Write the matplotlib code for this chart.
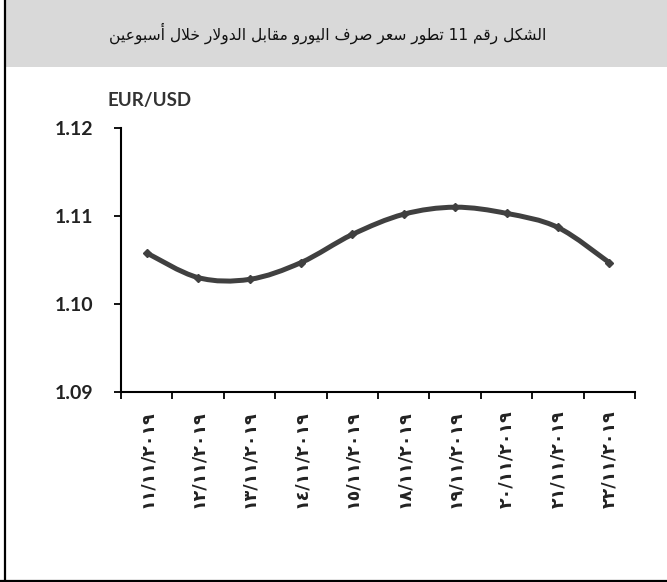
import numpy as np
import matplotlib.pyplot as plt
from matplotlib.path import Path
from matplotlib.patches import PathPatch, Rectangle
from matplotlib.lines import Line2D

# Datos
dates = ["١١/١١/٢٠١٩", "١٢/١١/٢٠١٩", "١٣/١١/٢٠١٩", "١٤/١١/٢٠١٩", "١٥/١١/٢٠١٩",
         "١٨/١١/٢٠١٩", "١٩/١١/٢٠١٩", "٢٠/١١/٢٠١٩", "٢١/١١/٢٠١٩", "٢٢/١١/٢٠١٩"]
eurusd = [1.1058, 1.1030, 1.1028, 1.1047, 1.1079, 1.1102, 1.1110, 1.1103, 1.1087, 1.1047]
yticks = [1.09, 1.10, 1.11, 1.12]
title = "الشكل رقم 11 تطور سعر صرف اليورو مقابل الدولار خلال أسبوعين"

# formas de presentacion arabes: (isolada, numero de formas)
FORMS = {"ا": (0xFE8D, 2), "أ": (0xFE83, 2), "ب": (0xFE8F, 4), "ت": (0xFE95, 4),
         "خ": (0xFEA5, 4), "د": (0xFEA9, 2), "ر": (0xFEAD, 2), "س": (0xFEB1, 4),
         "ش": (0xFEB5, 4), "ص": (0xFEB9, 4), "ط": (0xFEC1, 4), "ع": (0xFEC9, 4),
         "ف": (0xFED1, 4), "ق": (0xFED5, 4), "ك": (0xFED9, 4), "ل": (0xFEDD, 4),
         "م": (0xFEE1, 4), "ن": (0xFEE5, 4), "و": (0xFEED, 2), "ي": (0xFEF1, 4)}
LAMALEF = {"ا": 0xFEFB, "أ": 0xFEF7}


def shape_word(w):
    if not any(c in FORMS for c in w):
        return w
    toks = []
    i = 0
    while i < len(w):
        if w[i] == "ل" and i + 1 < len(w) and w[i + 1] in LAMALEF:
            toks.append((LAMALEF[w[i + 1]], 2))
            i += 2
        else:
            toks.append(FORMS[w[i]])
            i += 1
    out = []
    for k, (base, n) in enumerate(toks):
        prev = k > 0 and toks[k - 1][1] == 4
        nxt = n == 4 and k < len(toks) - 1
        if n == 2:
            idx = 1 if prev else 0
        else:
            idx = {(True, True): 3, (True, False): 1, (False, True): 2, (False, False): 0}[(prev, nxt)]
        out.append(chr(base + idx))
    return "".join(reversed(out))


def shape_rtl(s):
    return " ".join(shape_word(w) for w in reversed(s.split(" ")))


fig = plt.figure(figsize=(6.67, 5.82), dpi=100)

# banda del titulo y marco
fig.patches.append(Rectangle((6 / 667, 1 - 67 / 582), 1, 67 / 582, transform=fig.transFigure,
                             facecolor="#d9d9d9", edgecolor="none", zorder=0))
fig.lines.append(Line2D([5 / 667, 5 / 667], [0, 1], transform=fig.transFigure, color="black", lw=1.6))
fig.lines.append(Line2D([0, 1], [1.5 / 582, 1.5 / 582], transform=fig.transFigure, color="black", lw=1.6))
fig.text(0.491, 1 - 33 / 582, shape_rtl(title), ha="center", va="center", fontsize=11.2,
         family="DejaVu Sans", color="#111111")

ax = fig.add_axes([121 / 667, 190 / 582, 514 / 667, 264 / 582])
x = np.arange(len(eurusd))
y = np.array(eurusd)

# linea suavizada (bezier cubica)
verts = [(x[0], y[0])]
codes = [Path.MOVETO]
for i in range(len(x) - 1):
    p0 = np.array([x[max(i - 1, 0)], y[max(i - 1, 0)]])
    p1 = np.array([x[i], y[i]])
    p2 = np.array([x[i + 1], y[i + 1]])
    p3 = np.array([x[min(i + 2, len(x) - 1)], y[min(i + 2, len(x) - 1)]])
    c1 = p1 + (p2 - p0) / 6
    c2 = p2 - (p3 - p1) / 6
    verts += [tuple(c1), tuple(c2), tuple(p2)]
    codes += [Path.CURVE4] * 3
ax.add_patch(PathPatch(Path(verts, codes), facecolor="none", edgecolor="#404040", lw=3.6,
                       capstyle="butt", joinstyle="round"))
ax.plot(x, y, linestyle="none", marker="D", markersize=4.5, color="#404040")

ax.set_xlim(-0.5, len(x) - 0.5)
ax.set_ylim(1.09, 1.12)
ax.set_yticks(yticks)
ax.set_yticklabels([f"{v:.2f}" for v in yticks], fontsize=14, fontweight="bold",
                   family="Lato", color="#222222")
ax.set_xticks(np.arange(len(x) + 1) - 0.5)
ax.set_xticklabels([])
ax.set_xticks(x, minor=True)
ax.set_xticklabels(dates, minor=True, rotation=90, fontsize=12.5, fontweight="bold",
                   family="DejaVu Sans", color="#222222")
ax.tick_params(axis="x", which="major", direction="out", length=5, width=1.3)
ax.tick_params(axis="x", which="minor", length=0, pad=13)
ax.tick_params(axis="y", direction="out", length=5, width=1.3, pad=15)
for s in ["top", "right"]:
    ax.spines[s].set_visible(False)
for s in ["left", "bottom"]:
    ax.spines[s].set_linewidth(1.5)

fig.text(150 / 667, 1 - 100 / 582, "EUR/USD", ha="center", va="center", fontsize=13.5,
         fontweight="bold", family="Lato", color="#333333")

fig.savefig("out.png", dpi=100)
